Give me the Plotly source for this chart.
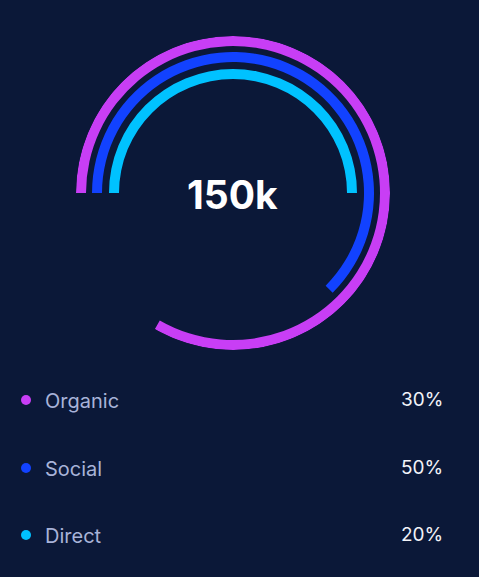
import plotly.graph_objects as go

# ---- data ----
channels = ["Organic", "Social", "Direct"]
shares = [30, 50, 20]                 # legend percentages
arc_fraction = [0.833, 0.625, 0.5]    # fraction of full circle covered by each ring
total_label = "150k"

colors = ["#c83ef5", "#1242ff", "#00c2ff"]
bg = "#0b1838"

W, H = 479, 577
cx, cy, R = 233, 193, 157
ring_inner = [147, 131, 114]
ring_thick = 10

fig = go.Figure()
for name, frac, col, r0 in zip(channels, arc_fraction, colors, ring_inner):
    sweep = frac * 360
    fig.add_trace(go.Barpolar(
        r=[ring_thick], base=[r0], theta=[sweep / 2], width=[sweep],
        marker=dict(color=col, line=dict(width=0)),
        name=name, hoverinfo="skip", showlegend=False,
    ))

fig.update_layout(
    width=W, height=H,
    margin=dict(l=0, r=0, t=0, b=0),
    paper_bgcolor=bg, plot_bgcolor=bg,
    showlegend=False,
    polar=dict(
        domain=dict(x=[(cx - R) / W, (cx + R) / W], y=[1 - (cy + R) / H, 1 - (cy - R) / H]),
        bgcolor="rgba(0,0,0,0)",
        angularaxis=dict(rotation=180, direction="clockwise", visible=False,
                         showgrid=False, showline=False, showticklabels=False),
        radialaxis=dict(range=[0, R], visible=False, showgrid=False,
                        showline=False, showticklabels=False),
        barmode="overlay",
    ),
)

ann = [dict(text=f"<b>{total_label}</b>", x=232 / W, y=1 - 194 / H, xref="paper", yref="paper",
            xanchor="center", yanchor="middle", showarrow=False,
            font=dict(family="Inter", size=39, color="#ffffff"))]
shapes = []
row_y = [400, 468, 535]
for name, pct, col, yy in zip(channels, shares, colors, row_y):
    shapes.append(dict(type="circle", xref="paper", yref="paper",
                       x0=21 / W, x1=31 / W, y0=1 - (yy + 5) / H, y1=1 - (yy - 5) / H,
                       fillcolor=col, line=dict(width=0)))
    ann.append(dict(text=name, x=43 / W, y=1 - (yy + 1) / H, xref="paper", yref="paper",
                    xanchor="left", yanchor="middle", showarrow=False,
                    font=dict(family="Inter", size=20, color="#a8b3d8")))
    ann.append(dict(text=f"{pct}%", x=445 / W, y=1 - (yy - 1) / H, xref="paper", yref="paper",
                    xanchor="right", yanchor="middle", showarrow=False,
                    font=dict(family="Inter", size=19, color="#f2f3f8")))

fig.update_layout(annotations=ann, shapes=shapes)
fig.write_html("out.html")
